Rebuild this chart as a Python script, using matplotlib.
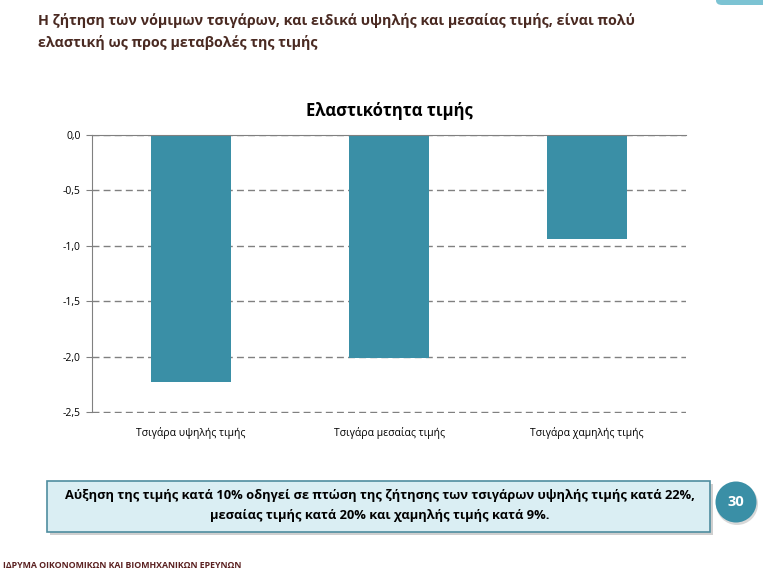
import matplotlib
matplotlib.use("Agg")
import matplotlib.pyplot as plt
from matplotlib.patches import FancyBboxPatch, Rectangle, Ellipse
from matplotlib.ticker import FuncFormatter

categories = ["Τσιγάρα υψηλής τιμής", "Τσιγάρα μεσαίας τιμής", "Τσιγάρα χαμηλής τιμής"]
elasticity = [-2.23, -2.01, -0.94]
yticks = [0.0, -0.5, -1.0, -1.5, -2.0, -2.5]

FONT = ["Open Sans", "DejaVu Sans"]
plt.rcParams['font.family'] = FONT

W, H = 763, 577
fig = plt.figure(figsize=(W / 100, H / 100), dpi=100)

def fx(x): return x / W
def fy(y): return 1 - y / H

title_col = "#4a2a22"
fig.text(fx(38), fy(20), "Η ζήτηση των νόμιμων τσιγάρων, και ειδικά υψηλής και μεσαίας τιμής, είναι πολύ",
         fontsize=10.3, fontweight="bold", color=title_col, va="center", ha="left")
fig.text(fx(38), fy(43), "ελαστική ως προς μεταβολές της τιμής",
         fontsize=10.3, fontweight="bold", color=title_col, va="center", ha="left")

# top-right decoration
fig.patches.append(FancyBboxPatch((fx(716), fy(5)), fx(60), 0.03,
                                  boxstyle="round,pad=0,rounding_size=0.008",
                                  transform=fig.transFigure, facecolor="#7cc3d3", edgecolor="none"))

# chart
ax = fig.add_axes([fx(92), fy(413), fx(686) - fx(92), fy(135) - fy(413)])
x = list(range(len(categories)))
ax.bar(x, elasticity, width=0.4, color="#3a8fa6", zorder=3)
ax.set_xlim(-0.5, 2.5)
ax.set_ylim(-2.51, 0.0)
ax.set_yticks(yticks)
ax.yaxis.set_major_formatter(FuncFormatter(lambda v, p: f"{v:.1f}".replace(".", ",")))
ax.set_xticks(x)
ax.set_xticklabels(categories)
ax.tick_params(axis="y", length=4, color="#808080", labelsize=7.5, pad=4)
ax.tick_params(axis="x", length=0, labelsize=7.5, pad=10)
ax.grid(axis="y", linestyle=(0, (5, 3)), color="#808080", linewidth=1.0, zorder=0)
for s in ["right", "bottom"]:
    ax.spines[s].set_visible(False)
ax.spines["left"].set_color("#808080")
ax.spines["left"].set_bounds(-2.5, 0.0)
ax.spines["top"].set_color("#808080")
ax.spines["top"].set_zorder(4)
ax.set_title("Ελαστικότητα τιμής", fontsize=12, fontweight="bold", pad=14)

# info box
bx0, by0, bx1, by1 = 47, 481, 710, 532
fig.patches.append(Rectangle((fx(bx0 + 3), fy(by1 + 3)), fx(bx1 - bx0), fy(by0) - fy(by1),
                             transform=fig.transFigure, facecolor="#b0b0b0", edgecolor="none", alpha=0.6))
fig.patches.append(Rectangle((fx(bx0), fy(by1)), fx(bx1 - bx0), fy(by0) - fy(by1),
                             transform=fig.transFigure, facecolor="#daeef3", edgecolor="#4f8da0", linewidth=1.2))
fig.text(fx(380), fy(496), "Αύξηση της τιμής κατά 10% οδηγεί σε πτώση της ζήτησης των τσιγάρων υψηλής τιμής κατά 22%,",
         fontsize=9.3, fontweight="bold", ha="center", va="center", color="#000000")
fig.text(fx(380), fy(516), "μεσαίας τιμής κατά 20% και χαμηλής τιμής κατά 9%.",
         fontsize=9.3, fontweight="bold", ha="center", va="center", color="#000000")

# page badge
fig.patches.append(Ellipse((fx(737), fy(504)), fx(42), 42 / H, transform=fig.transFigure,
                           facecolor="#c8c8c8", edgecolor="none", alpha=0.7))
fig.patches.append(Ellipse((fx(736), fy(502)), fx(41), 41 / H, transform=fig.transFigure,
                           facecolor="#3a8fa6", edgecolor="none"))
fig.text(fx(736), fy(502), "30", fontsize=10.5, fontweight="bold", color="white", ha="center", va="center")

fig.text(fx(3), fy(566), "ΙΔΡΥΜΑ ΟΙΚΟΝΟΜΙΚΩΝ ΚΑΙ ΒΙΟΜΗΧΑΝΙΚΩΝ ΕΡΕΥΝΩΝ",
         fontsize=6.3, fontweight="bold", color="#5a2020", ha="left", va="center")

fig.savefig("out.png", dpi=100)
